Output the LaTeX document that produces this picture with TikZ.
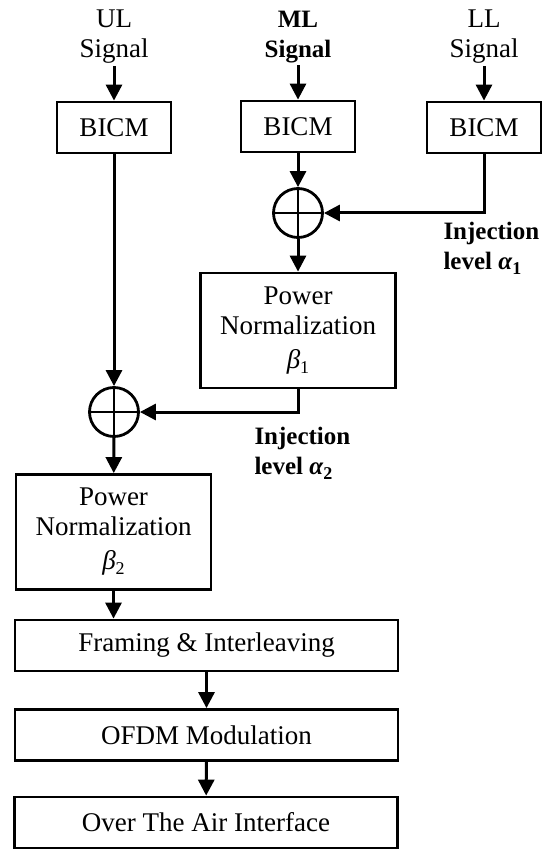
\documentclass[tikz,border=0pt]{standalone}
\usepackage{fontspec}
\setmainfont{Liberation Serif}
\usetikzlibrary{arrows.meta}
\newcommand{\dfont}{\fontsize{27}{30}\selectfont}
\newcommand{\bfont}{\fontsize{25}{30}\selectfont\bfseries}
\newcommand{\sbeta}[1]{\textit{β}\raisebox{-5pt}{\fontsize{18}{18}\selectfont #1}}
\newcommand{\salpha}[1]{\textbf{\textit{α}}\raisebox{-5pt}{\fontsize{18}{18}\selectfont\bfseries #1}}
\begin{document}
\begin{tikzpicture}[x=1pt,y=-1pt,line width=3pt,
  lab/.style={inner sep=1pt,align=center,font=\dfont},
  box/.style={draw,line width=2.8pt,inner sep=0pt,align=center,font=\dfont},
  bicm/.style={box,minimum width=114pt,minimum height=51pt},
  pn/.style={box,minimum width=195pt,minimum height=115pt},
  wide/.style={box,minimum width=383pt,minimum height=51pt},
  adder/.style={circle,draw,line width=2.8pt,minimum size=49pt,inner sep=0pt,
    path picture={\draw[line width=2.5pt] (path picture bounding box.north) -- (path picture bounding box.south)
      (path picture bounding box.west) -- (path picture bounding box.east);}},
  inj/.style={anchor=west,align=left,inner sep=0pt,font=\bfont},
  arr/.style={-{Triangle[width=16pt,length=16pt]}}]
\useasboundingbox (0,0) rectangle (547,850);
\node[lab] (ull) at (114,37) {UL\\Signal};
\node[lab,font=\bfont] (mll) at (298,37) {ML\\Signal};
\node[lab] (lll) at (484,37) {LL\\Signal};
\node[bicm] (b1) at (114,127.5) {BICM};
\node[bicm] (b2) at (298,126.5) {BICM};
\node[bicm] (b3) at (484,127.5) {BICM};
\node[adder] (a1) at (298,213) {};
\node[pn] (p1) at (298,330.5) {Power\\Normalization\\[4pt]\sbeta{1}};
\node[adder] (a2) at (114,412) {};
\node[pn] (p2) at (113.5,532) {Power\\Normalization\\[4pt]\sbeta{2}};
\node[wide] (fr) at (206.5,645.5) {Framing \& Interleaving};
\node[wide] (of) at (206.5,735) {OFDM Modulation};
\node[wide] (air) at (206,822.5) {Over The Air Interface};
\node[inj] (i1) at (442,248) {Injection\\level \salpha{1}};
\node[inj] (i2) at (253,453) {Injection\\level \salpha{2}};
\draw[arr] (ull) -- (b1);
\draw[arr] (mll) -- (b2);
\draw[arr] (lll) -- (b3);
\draw[arr] (b2) -- (a1);
\draw[arr] (b3.south) |- (a1.east);
\draw[arr] (a1) -- (p1);
\draw[arr] (b1) -- (a2);
\draw[arr] (p1.south) |- (a2.east);
\draw[arr] (a2) -- (p2);
\draw[arr] (p2.south) -- (p2.south |- fr.north);
\draw[arr] (fr) -- (of);
\draw[arr] (of) -- (air);
\end{tikzpicture}
\end{document}
